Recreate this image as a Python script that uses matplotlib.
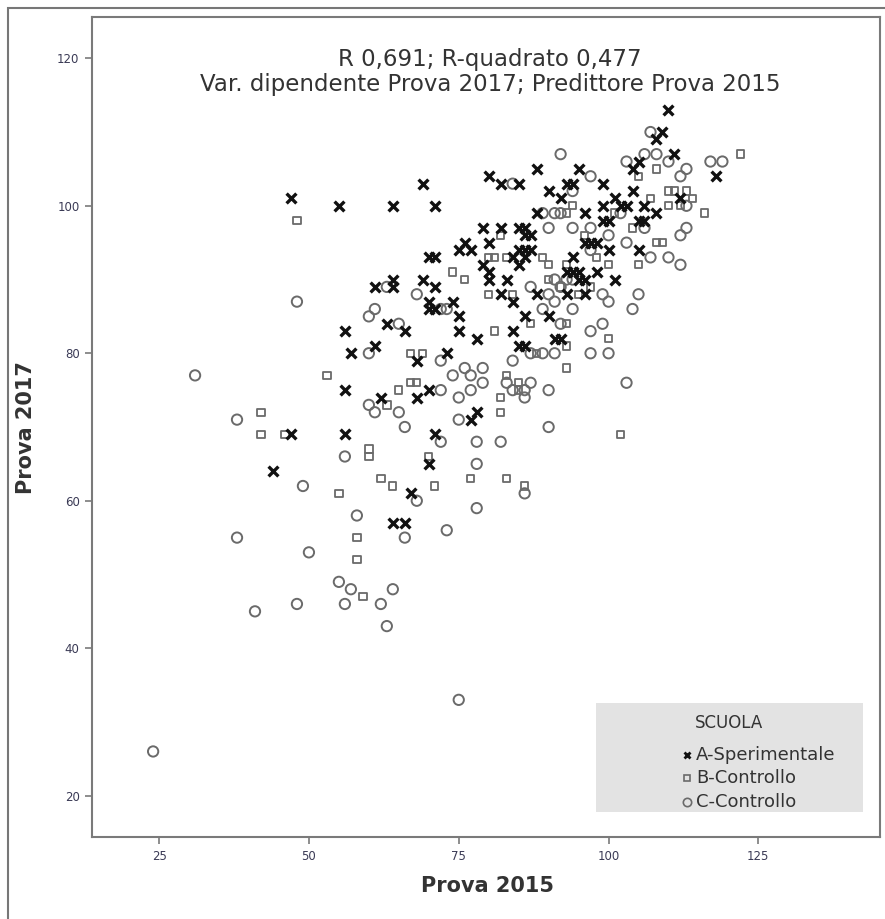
import matplotlib
matplotlib.use("Agg")
import matplotlib.pyplot as plt
from matplotlib.patches import Rectangle
from matplotlib.lines import Line2D

# A-Sperimentale (crosses)
a_x = [110,109,108,111,105,104,118,99,104,101,99,102,103,106,112,108,105,106,99,100,100,105,98,101,
       47,55,64,69,71,80,82,85,88,95,90,93,94,92,96,88,
       79,82,85,86,87,86,76,75,77,80,96,97,
       85,86,87,86,70,71,84,94,79,85,
       93,94,95,95,96,98,
       69,80,80,83,64,61,64,71,
       82,88,93,96,70,74,84,
       70,71,75,86,90,63,56,66,84,75,78,91,92,61,85,86,57,73,68,
       56,70,62,68,78,77,47,56,71,70,44,67,64,66]
a_y = [113,110,109,107,106,105,104,103,102,101,100,100,100,100,101,99,98,98,98,98,94,94,95,90,
       101,100,100,103,100,104,103,103,105,105,102,103,103,101,99,99,
       97,97,97,97,96,96,95,94,94,95,95,95,
       94,94,94,93,93,93,93,93,92,92,
       91,91,91,90,90,91,
       90,91,90,90,90,89,89,89,
       88,88,88,88,87,87,87,
       86,86,85,85,85,84,83,83,83,83,82,82,82,81,81,81,80,80,79,
       75,75,74,74,72,71,69,69,69,65,64,61,57,57]

# B-Controllo (squares)
b_x = [122,108,105,110,111,113,107,116,108,109,105,110,
       48,94,93,82,80,81,83,74,76,90,93,90,80,84,87,93,81,100,93,88,67,69,93,53,83,67,68,85,65,85,82,63,82,
       42,42,46,102,60,60,70,77,83,62,64,71,86,55,58,58,59,98,100,97,95,
       112,114,104,101,96,92,89]
b_y = [107,105,104,102,102,102,101,99,95,95,92,100,
       98,100,99,96,93,93,93,91,90,92,92,90,88,88,84,84,83,82,81,80,80,80,78,77,77,76,76,76,75,75,74,73,72,
       72,69,69,69,67,66,66,63,63,63,62,62,62,61,55,52,47,93,92,89,88,
       100,101,97,99,96,89,93]

# C-Controllo (circles)
c_x = [24,31,38,38,48,49,41,48,50,56,58,55,57,56,62,63,64,75,
       60,60,61,63,65,60,61,65,66,66,68,73,78,86,78,72,78,82,75,72,77,75,86,84,86,87,90,90,83,79,74,77,76,79,72,84,
       91,89,87,97,100,103,97,99,89,92,94,90,91,99,100,104,105,68,72,73,87,91,92,93,94,90,94,97,89,91,92,92,97,84,94,
       100,97,102,106,103,107,110,112,113,112,113,103,106,108,107,110,112,113,117,119]
c_y = [26,77,71,55,87,62,45,46,53,66,58,49,48,46,46,43,48,33,
       80,85,86,89,84,73,72,72,70,55,60,56,59,61,65,68,68,68,71,75,75,74,74,75,75,76,75,70,76,76,77,77,78,78,79,79,
       80,80,80,80,80,76,83,84,86,84,86,88,87,88,87,86,88,88,86,86,89,90,89,90,90,97,97,97,99,99,99,107,104,103,102,
       96,94,99,97,95,93,93,92,97,96,100,106,107,107,110,106,104,105,106,106]

W, H = 885, 919
fig = plt.figure(figsize=(W/100, H/100), dpi=100)
fig.patch.set_facecolor("white")
fig.add_artist(Rectangle((8/W, -0.01), 1.02, 1.01 - 8/H, transform=fig.transFigure,
                         fill=False, edgecolor="#777777", linewidth=1.5))

L, R, T, B = 92, 880, 17, 837
ax = fig.add_axes([L/W, 1 - B/H, (R-L)/W, (B-T)/H])
ax.set_xlim(13.8, 145.3)
ax.set_ylim(14.4, 125.6)

ax.scatter(b_x, b_y, marker="s", s=28, facecolors="none", edgecolors="#6a6a6a", linewidths=1.3, zorder=2)
ax.scatter(c_x, c_y, marker="o", s=55, facecolors="none", edgecolors="#6a6a6a", linewidths=1.4, zorder=2)
ax.scatter(a_x, a_y, marker="x", s=50, color="#111111", linewidths=2.4, zorder=3)

for s in ["left", "bottom", "right", "top"]:
    ax.spines[s].set_color("#7a7a7a")
    ax.spines[s].set_linewidth(1.5)

ax.set_xticks([25, 50, 75, 100, 125])
ax.set_yticks([20, 40, 60, 80, 100, 120])
ax.tick_params(direction="out", length=5, width=1.2, color="#7a7a7a",
               labelsize=8.5, labelcolor="#3a3a55", pad=4)

ax.set_xlabel("Prova 2015", fontsize=15, fontweight="bold", color="#333333")
ax.set_ylabel("Prova 2017", fontsize=15, fontweight="bold", color="#333333")
ax.xaxis.set_label_coords((488 - L)/(R - L), -(886 - B)/(B - T))
ax.yaxis.set_label_coords(-(L - 26)/(R - L), (B - 428)/(B - T))
ax.xaxis.label.set_va("center")
ax.yaxis.label.set_va("center")

ax.text(0.505, 1 - (60 - T)/(B - T), "R 0,691; R-quadrato 0,477", transform=ax.transAxes,
        ha="center", va="center", fontsize=16.5, color="#333333")
ax.text(0.505, 1 - (85 - T)/(B - T), "Var. dipendente Prova 2017; Predittore Prova 2015",
        transform=ax.transAxes, ha="center", va="center", fontsize=16.5, color="#333333")

# legend box
lx0, ly0, lx1, ly1 = 596, 703, 863, 812
fig.add_artist(Rectangle((lx0/W, 1 - ly1/H), (lx1-lx0)/W, (ly1-ly0)/H, transform=fig.transFigure,
                         facecolor="#e3e3e3", edgecolor="none", zorder=5))
fig.text(729/W, 1 - 723/H, "SCUOLA", ha="center", va="center", fontsize=12, color="#333333", zorder=6)
labels = ["A-Sperimentale", "B-Controllo", "C-Controllo"]
ys = [755, 778, 802]
fig.add_artist(Line2D([687/W], [1 - ys[0]/H], marker="x", markersize=5, color="#111111",
                      markeredgewidth=2, transform=fig.transFigure, zorder=6))
fig.add_artist(Line2D([687/W], [1 - ys[1]/H], marker="s", markersize=4.5, markerfacecolor="none",
                      markeredgecolor="#6a6a6a", markeredgewidth=1.2, transform=fig.transFigure, zorder=6))
fig.add_artist(Line2D([687/W], [1 - ys[2]/H], marker="o", markersize=6, markerfacecolor="none",
                      markeredgecolor="#6a6a6a", markeredgewidth=1.2, transform=fig.transFigure, zorder=6))
for lab, yy in zip(labels, ys):
    fig.text(696/W, 1 - yy/H, lab, ha="left", va="center", fontsize=13, color="#333333", zorder=6)

fig.savefig("out.png", dpi=100)
